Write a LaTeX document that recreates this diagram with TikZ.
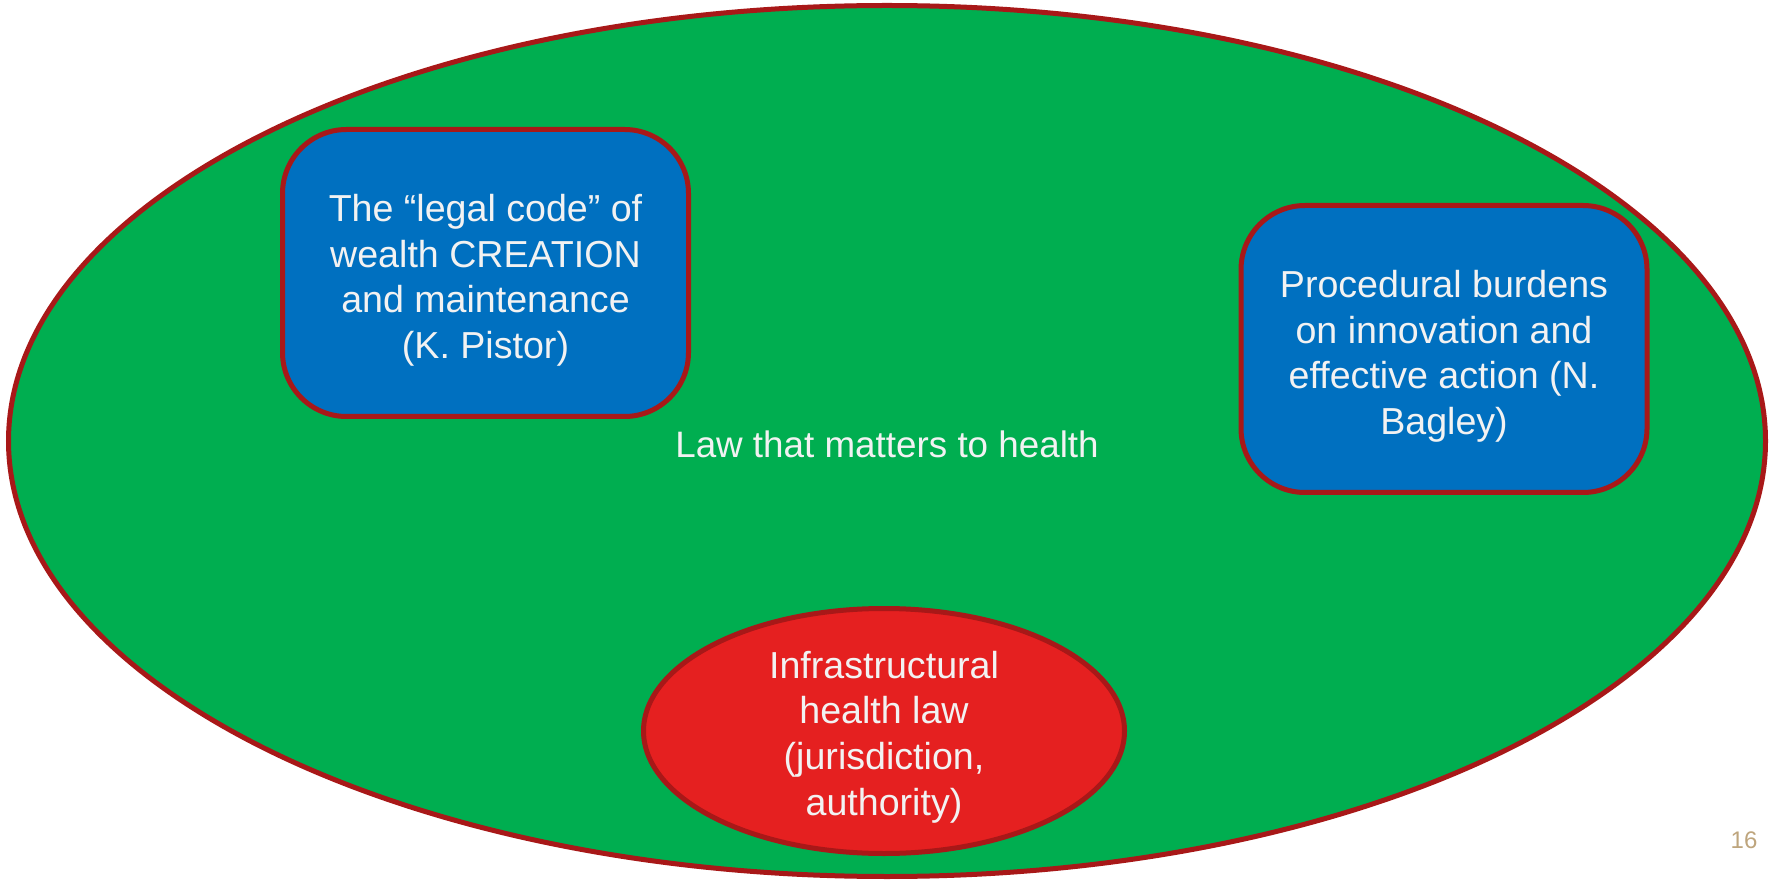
\documentclass[tikz,border=0pt]{standalone}
\usepackage{fontspec}
\setmainfont{Liberation Sans}
\usepackage{xcolor}
\usetikzlibrary{shapes.geometric}
\definecolor{lawgreen}{RGB}{0,174,80}
\definecolor{codeblue}{RGB}{0,112,192}
\definecolor{infrared}{RGB}{229,32,32}
\definecolor{rimred}{RGB}{168,24,24}
\definecolor{pagetan}{RGB}{190,165,125}
\definecolor{paletext}{RGB}{242,242,242}
% extra room above the first line, pushes the text block down
\newcommand{\topgap}[1]{\rule{0pt}{#1}}

\begin{document}
\begin{tikzpicture}[x=0.5pt,y=-0.5pt]
\tikzset{
  field/.style={ellipse,draw=rimred,fill=lawgreen,line width=2.5pt,inner sep=0pt,
    minimum width=878.5pt,minimum height=435.5pt,text=paletext,
    font=\fontsize{18.4}{22.8}\selectfont},
  box/.style={draw=rimred,fill=codeblue,line width=2.5pt,rounded corners=32pt,
    minimum width=203pt,minimum height=143.5pt,align=center,text=paletext,
    font=\fontsize{18.8}{22.8}\selectfont},
  core/.style={ellipse,draw=rimred,fill=infrared,line width=2.5pt,inner sep=-8pt,
    minimum width=240.5pt,minimum height=122.5pt,align=center,text=paletext,
    font=\fontsize{18.8}{22.8}\selectfont}
}
\useasboundingbox (0,0) rectangle (1771,881);
\node[field] (law) at (887,441) {\topgap{17pt}Law that matters to health};
\node[box] (pistor) at (485.5,273) {\topgap{21pt}The “legal code” of\\wealth CREATION\\and maintenance\\(K. Pistor)};
\node[box] (bagley) at (1444,349) {\topgap{21pt}Procedural burdens\\on innovation and\\effective action (N.\\Bagley)};
\node[core] (infra) at (884,731) {\topgap{19.5pt}Infrastructural\\health law\\(jurisdiction,\\authority)};
\node[text=pagetan,font=\fontsize{12}{14}\selectfont] (page) at (1744,840) {16};
\end{tikzpicture}
\end{document}
